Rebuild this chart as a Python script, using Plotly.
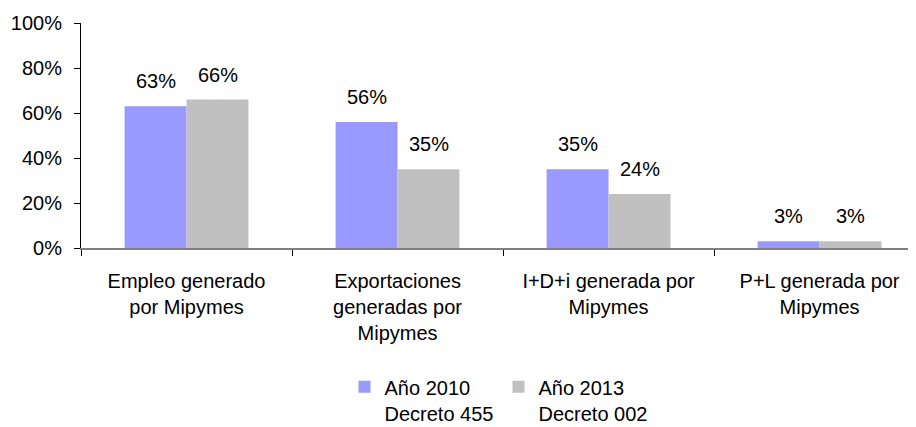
import plotly.graph_objects as go

categories = [
    "Empleo generado<br>por Mipymes",
    "Exportaciones<br>generadas por<br>Mipymes",
    "I+D+i generada por<br>Mipymes",
    "P+L generada por<br>Mipymes",
]
series_names = ["Año 2010<br>Decreto 455", "Año 2013<br>Decreto 002"]
values_2010 = [0.63, 0.56, 0.35, 0.03]
values_2013 = [0.66, 0.35, 0.24, 0.03]
colors = ["#9999FF", "#C0C0C0"]

font = dict(family="Liberation Sans, Arial, sans-serif", size=20, color="#000000")

fig = go.Figure()
for name, vals, col in zip(series_names, [values_2010, values_2013], colors):
    fig.add_trace(go.Bar(
        x=categories, y=vals, name=name,
        marker=dict(color=col, line=dict(width=0)),
    ))

# value labels above the bars (offset left/right by half a bar)
bar_px = 62
for i, vals in enumerate([values_2010, values_2013]):
    for cat, v in zip(categories, vals):
        fig.add_annotation(
            x=cat, y=v, text=f"{v:.0%}", showarrow=False,
            xanchor="center", yanchor="bottom",
            xshift=(i - 0.5) * bar_px, yshift=12, font=font,
        )

# the page body has an 8px margin, so the figure is a bit smaller than the window
fig.update_layout(
    width=908, height=419,
    margin=dict(l=73, r=0, t=15, b=179, autoexpand=False),
    paper_bgcolor="white", plot_bgcolor="white",
    font=font,
    barmode="group", bargap=0.413, bargroupgap=0,
    showlegend=True,
    legend=dict(orientation="h", x=0.5, xanchor="center", y=-0.53, yanchor="top",
                valign="top", font=font, traceorder="normal"),
    xaxis=dict(type="category", range=[-0.5, 3.457], tickson="boundaries",
               ticks="outside", ticklen=6, tickcolor="#000000",
               showline=True, linecolor="#808080", linewidth=2,
               showgrid=False, ticklabelstandoff=14, automargin=False),
    yaxis=dict(range=[0, 1], dtick=0.2, tickformat=".0%",
               ticks="outside", ticklen=6, tickcolor="#000000",
               showline=True, linecolor="#000000", linewidth=1,
               showgrid=False, zeroline=False, ticklabelstandoff=8,
               automargin=False),
)

fig.write_html("out.html")
